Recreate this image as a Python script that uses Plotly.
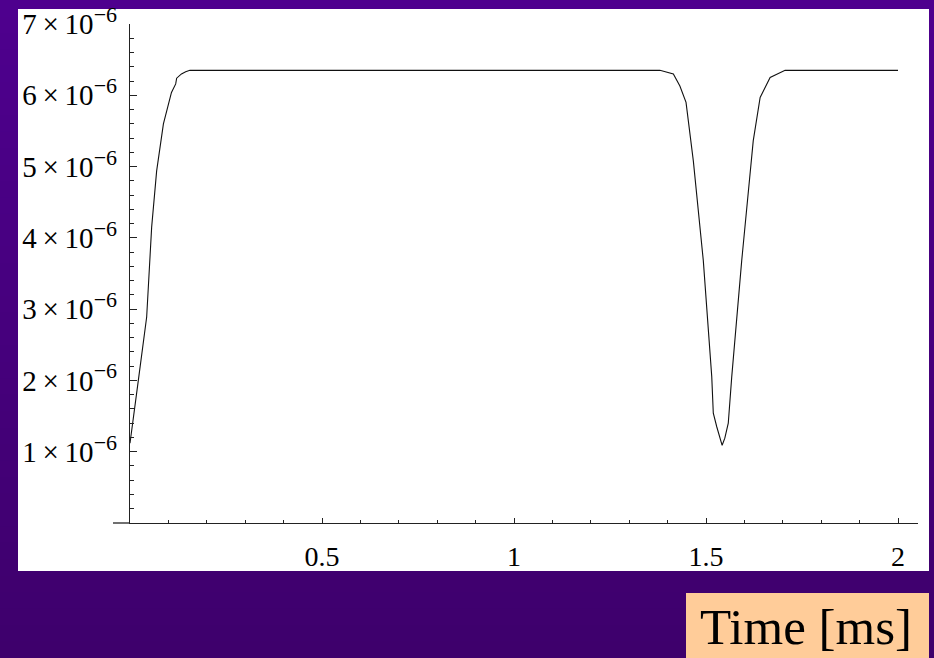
import plotly.graph_objects as go

# ---- data (time in ms, signal values) ----
time_ms = [0.0, 0.003, 0.0217, 0.0434, 0.0564, 0.0694, 0.087, 0.108, 0.119, 0.1215,
           0.134, 0.145, 0.156, 1.38, 1.398, 1.415, 1.432, 1.448, 1.467, 1.493, 1.515,
           1.519, 1.528, 1.536, 1.542, 1.549, 1.558, 1.567, 1.593, 1.623, 1.641,
           1.667, 1.682, 1.693, 1.706, 2.0]
signal_e6 = [1.12, 1.25, 2.0, 2.89, 4.15, 4.94, 5.6, 6.04, 6.16, 6.24,
             6.30, 6.33, 6.35, 6.35, 6.32, 6.30, 6.13, 5.90, 5.08, 3.68, 2.05,
             1.54, 1.35, 1.19, 1.09, 1.19, 1.40, 2.05, 3.68, 5.36, 5.97,
             6.25, 6.29, 6.32, 6.35, 6.35]
signal = [v * 1e-6 for v in signal_e6]

x_tick_vals = [0.5, 1, 1.5, 2]
x_tick_text = ["0.5", "1", "1.5", "2"]
y_tick_vals = [k * 1e-6 for k in [1, 2, 3, 4, 5, 6, 7]]
y_tick_text = [f"{k}\u2009\u00d7\u200910<sup><span style='font-size:22px'>\u22126</span></sup>"
               for k in [1, 2, 3, 4, 5, 6, 7]]
x_label = "Time [ms]"

# ---- layout geometry (pixels) ----
W, H = 934, 658
L, R, T, B = 130, 918, 24, 523  # plot area


def px(x):
    return (x - L) / (R - L)


def py(y):
    return (B - y) / (B - T)


FONT = "Liberation Serif, Times New Roman, serif"

shapes = []
# vertical purple gradient background
top = (78, 0, 142)
bot = (62, 0, 108)
n = 40
for i in range(n):
    f = i / (n - 1)
    c = tuple(round(top[j] + (bot[j] - top[j]) * f) for j in range(3))
    y0 = H * i / n
    y1 = H * (i + 1) / n + 1
    shapes.append(dict(type="rect", xref="paper", yref="paper",
                       x0=px(0), x1=px(W), y0=py(y0), y1=py(y1),
                       fillcolor=f"rgb{c}", line=dict(width=0), layer="below"))
# white panel
shapes.append(dict(type="rect", xref="paper", yref="paper",
                   x0=px(18), x1=px(929), y0=py(9), y1=py(571),
                   fillcolor="white", line=dict(width=0), layer="below"))
# x-axis extension to the left of the y axis
shapes.append(dict(type="line", xref="paper", yref="paper",
                   x0=px(113), x1=px(130), y0=0, y1=0,
                   line=dict(color="#222", width=1.3)))
# orange label box
shapes.append(dict(type="rect", xref="paper", yref="paper",
                   x0=px(686), x1=px(929), y0=py(593), y1=py(659),
                   fillcolor="#FFCC99", line=dict(width=0)))

fig = go.Figure()
fig.add_trace(go.Scatter(x=time_ms, y=signal, mode="lines",
                         line=dict(color="#111", width=1.1),
                         hoverinfo="skip", showlegend=False))

fig.update_layout(
    width=W, height=H,
    margin=dict(l=L, r=W - R, t=T, b=H - B, pad=0),
    paper_bgcolor="rgb(70,0,125)",
    plot_bgcolor="rgba(0,0,0,0)",
    shapes=shapes,
    font=dict(family=FONT, size=28, color="black"),
    xaxis=dict(range=[0, (R - L) / 384], showgrid=False, zeroline=False,
               showline=True, linecolor="#222", linewidth=1.3,
               tickmode="array", tickvals=x_tick_vals, ticktext=x_tick_text,
               ticks="inside", ticklen=5, tickwidth=1, tickcolor="#222",
               ticklabelstandoff=8,
               tickfont=dict(family=FONT, size=28, color="black"),
               minor=dict(tickmode="linear", tick0=0, dtick=0.1, ticks="inside",
                          ticklen=3, tickwidth=1, tickcolor="#222", showgrid=False),
               automargin=False, fixedrange=True),
    yaxis=dict(range=[0, 7e-6], showgrid=False, zeroline=False,
               showline=True, linecolor="#222", linewidth=1.3,
               tickmode="array", tickvals=y_tick_vals, ticktext=y_tick_text,
               ticks="inside", ticklen=7, tickwidth=1, tickcolor="#222",
               ticklabelstandoff=6,
               tickfont=dict(family=FONT, size=29, color="black"),
               minor=dict(tickmode="linear", tick0=0, dtick=0.2e-6, ticks="inside",
                          ticklen=4, tickwidth=1, tickcolor="#222", showgrid=False),
               automargin=False, fixedrange=True),
    annotations=[dict(text=x_label, xref="paper", yref="paper",
                      x=px(806), y=py(627), xanchor="center", yanchor="middle",
                      showarrow=False,
                      font=dict(family=FONT, size=51, color="black"))],
)

fig.write_html("out.html")
